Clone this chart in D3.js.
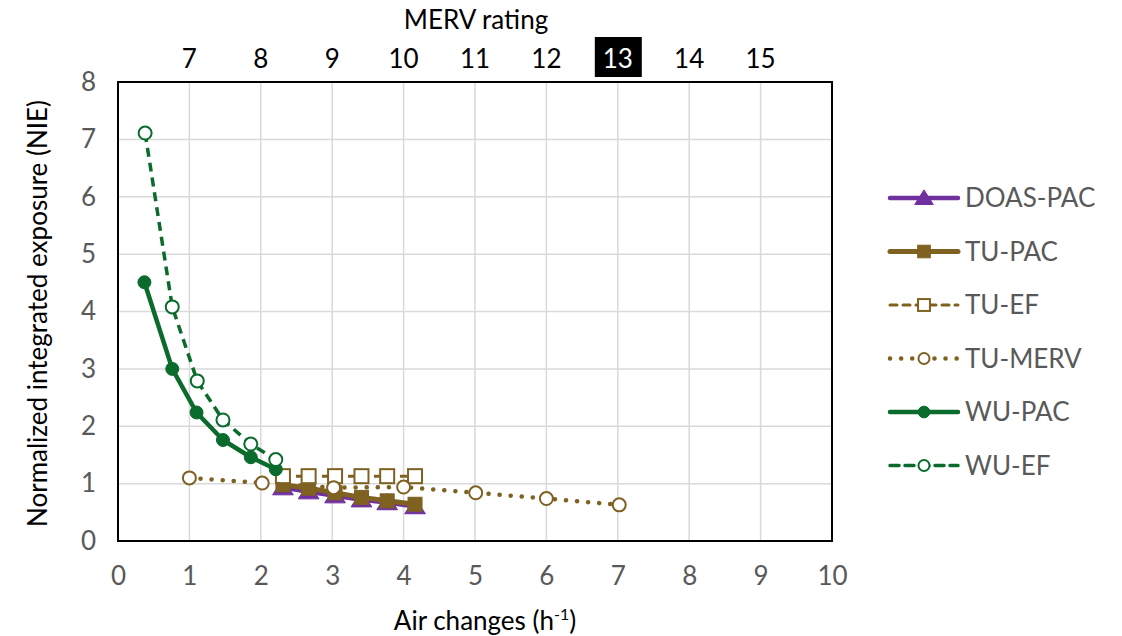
<!DOCTYPE html>
<html>
<head>
<meta charset="utf-8">
<script src="https://cdn.jsdelivr.net/npm/d3@7"></script>
<style>
  html, body { margin: 0; padding: 0; background: #fff; }
  svg { display: block; font-family: Lato, "Open Sans", sans-serif; }
</style>
</head>
<body>
<svg id="chart" width="1122" height="636"></svg>
<script>
// Air changes per hour (x) and normalized integrated exposure (y) per series
const doasPacX = [2.31, 2.67, 3.04, 3.41, 3.77, 4.16];
const doasPacY = [0.93, 0.86, 0.79, 0.72, 0.67, 0.60];

const tuPacX = [2.31, 2.67, 3.04, 3.41, 3.77, 4.16];
const tuPacY = [0.98, 0.92, 0.84, 0.76, 0.70, 0.64];

const tuEfX = [2.31, 2.67, 3.04, 3.41, 3.77, 4.16];
const tuEfY = [1.13, 1.13, 1.13, 1.13, 1.13, 1.13];

const tuMervX = [1.0, 2.02, 3.02, 4.0, 5.01, 6.0, 7.02];
const tuMervY = [1.10, 1.01, 0.93, 0.94, 0.84, 0.74, 0.63];

const wuPacX = [0.37, 0.76, 1.10, 1.47, 1.86, 2.21];
const wuPacY = [4.51, 3.0, 2.24, 1.76, 1.46, 1.25];

const wuEfX = [0.38, 0.76, 1.11, 1.47, 1.86, 2.21];
const wuEfY = [7.11, 4.08, 2.79, 2.11, 1.69, 1.42];

// Axis ticks
const xTicks = [0, 1, 2, 3, 4, 5, 6, 7, 8, 9, 10];
const yTicks = [0, 1, 2, 3, 4, 5, 6, 7, 8];
// MERV ratings placed along the top at x = 1..9
const mervPos = [1, 2, 3, 4, 5, 6, 7, 8, 9];
const mervLabels = ["7", "8", "9", "10", "11", "12", "13", "14", "15"];
const mervHighlight = "13";

const C_PURPLE = "#7030a0";
const C_OLIVE = "#7f6122";
const C_GREEN = "#0a6b2c";

const series = [
  { name: "DOAS-PAC", x: doasPacX, y: doasPacY, color: C_PURPLE, width: 4.5, dash: null, marker: "triangle", fill: true },
  { name: "TU-PAC", x: tuPacX, y: tuPacY, color: C_OLIVE, width: 5, dash: null, marker: "square", fill: true },
  { name: "TU-EF", x: tuEfX, y: tuEfY, color: C_OLIVE, width: 3, dash: "7 6", marker: "square", fill: false },
  { name: "TU-MERV", x: tuMervX, y: tuMervY, color: C_OLIVE, width: 4.5, dash: "0.1 11", marker: "circle", fill: false, round: true },
  { name: "WU-PAC", x: wuPacX, y: wuPacY, color: C_GREEN, width: 4.5, dash: null, marker: "circle", fill: true },
  { name: "WU-EF", x: wuEfX, y: wuEfY, color: C_GREEN, width: 3.5, dash: "9 6", marker: "circle", fill: false }
];

const svg = d3.select("#chart");
const pLeft = 118, pRight = 832, pTop = 82, pBottom = 541;
const FS = "26px";

const x = d3.scaleLinear().domain([0, 10]).range([pLeft, pRight]);
const y = d3.scaleLinear().domain([0, 8]).range([pBottom, pTop]);

const TEXT = "#595959";

// Gridlines
const grid = svg.append("g");
grid.selectAll("line.h").data(yTicks).join("line")
  .attr("class", "h")
  .attr("x1", pLeft).attr("x2", pRight)
  .attr("y1", d => y(d)).attr("y2", d => y(d))
  .attr("stroke", "#d9d9d9").attr("stroke-width", 1.5);
grid.selectAll("line.v").data(xTicks).join("line")
  .attr("class", "v")
  .attr("x1", d => x(d)).attr("x2", d => x(d))
  .attr("y1", pTop).attr("y2", pBottom)
  .attr("stroke", "#d9d9d9").attr("stroke-width", 1.5);

// Bottom axis
const xAxis = svg.append("g")
  .attr("transform", `translate(0,${pBottom})`)
  .call(d3.axisBottom(x).tickValues(xTicks).tickSize(0).tickPadding(26).tickFormat(d3.format("d")));
xAxis.select(".domain").remove();
xAxis.selectAll("text").attr("fill", TEXT).style("font-size", FS).style("font-family", "Lato, sans-serif");

// Left axis
const yAxis = svg.append("g")
  .attr("transform", `translate(${pLeft},0)`)
  .call(d3.axisLeft(y).tickValues(yTicks).tickSize(0).tickPadding(22).tickFormat(d3.format("d")));
yAxis.select(".domain").remove();
yAxis.selectAll("text").attr("fill", TEXT).style("font-size", FS).style("font-family", "Lato, sans-serif");

// Top MERV axis
const xTop = d3.scaleOrdinal().domain(mervLabels).range(mervPos.map(p => x(p)));
const topAxis = svg.append("g");
mervLabels.forEach(lab => {
  const cx = xTop(lab);
  if (lab === mervHighlight) {
    topAxis.append("rect")
      .attr("x", cx - 23).attr("y", 37).attr("width", 47).attr("height", 40)
      .attr("fill", "#000");
  }
  topAxis.append("text")
    .attr("x", cx).attr("y", 68)
    .attr("text-anchor", "middle")
    .attr("fill", lab === mervHighlight ? "#fff" : "#000")
    .style("font-size", FS)
    .text(lab);
});

// Plot frame
svg.append("rect")
  .attr("x", pLeft).attr("y", pTop).attr("width", pRight - pLeft).attr("height", pBottom - pTop)
  .attr("fill", "none").attr("stroke", "#000").attr("stroke-width", 2);

// Series lines and markers
const line = d3.line().x(d => x(d[0])).y(d => y(d[1]));
const plot = svg.append("g");

function drawMarker(g, m, px, py, color, fill, scale) {
  const s = scale || 1;
  if (m === "circle") {
    g.append("circle").attr("cx", px).attr("cy", py)
      .attr("r", 6.5 * s)
      .attr("fill", fill ? color : "#fff")
      .attr("stroke", color).attr("stroke-width", fill ? 1 : 2);
  } else if (m === "square") {
    const h = 7 * s;
    g.append("rect").attr("x", px - h).attr("y", py - h).attr("width", 2 * h).attr("height", 2 * h)
      .attr("fill", fill ? color : "#fff")
      .attr("stroke", color).attr("stroke-width", fill ? 1 : 2);
  } else if (m === "triangle") {
    const h = 9 * s;
    g.append("path")
      .attr("d", `M${px},${py - h} L${px + h * 1.15},${py + h * 0.8} L${px - h * 1.15},${py + h * 0.8} Z`)
      .attr("fill", color).attr("stroke", color).attr("stroke-width", 1);
  }
}

series.forEach(s => {
  const pts = s.x.map((v, i) => [v, s.y[i]]);
  const g = plot.append("g");
  g.append("path").datum(pts)
    .attr("d", line)
    .attr("fill", "none")
    .attr("stroke", s.color)
    .attr("stroke-width", s.width)
    .attr("stroke-linecap", s.round ? "round" : "butt")
    .attr("stroke-linejoin", "round")
    .attr("stroke-dasharray", s.dash);
  pts.forEach(p => drawMarker(g, s.marker, x(p[0]), y(p[1]), s.color, s.fill));
});

// Legend
const legend = svg.append("g");
series.forEach((s, i) => {
  const ly = 198 + i * 53.5;
  const g = legend.append("g");
  g.append("line")
    .attr("x1", 890).attr("x2", 958).attr("y1", ly).attr("y2", ly)
    .attr("stroke", s.color).attr("stroke-width", s.width)
    .attr("stroke-linecap", "round")
    .attr("stroke-dasharray", s.dash);
  drawMarker(g, s.marker, 924, ly, s.color, s.fill, s.fill ? 0.9 : 0.85);
  g.append("text")
    .attr("x", 965).attr("y", ly + 9)
    .attr("fill", TEXT)
    .style("font-size", FS)
    .text(s.name);
});

// Axis titles
svg.append("text")
  .attr("x", 476).attr("y", 29)
  .attr("text-anchor", "middle").attr("fill", "#000")
  .style("font-size", FS)
  .text("MERV rating");

const xt = svg.append("text")
  .attr("x", 485).attr("y", 630)
  .attr("text-anchor", "middle").attr("fill", "#000")
  .style("font-size", FS);
xt.append("tspan").text("Air changes (h");
xt.append("tspan").attr("dy", -10).style("font-size", "16px").text("-1");
xt.append("tspan").attr("dy", 10).text(")");

svg.append("text")
  .attr("transform", `translate(47,${(pTop + pBottom) / 2 + 2}) rotate(-90)`)
  .attr("text-anchor", "middle").attr("fill", "#000")
  .style("font-size", FS)
  .text("Normalized integrated exposure (NIE)");
</script>
</body>
</html>
